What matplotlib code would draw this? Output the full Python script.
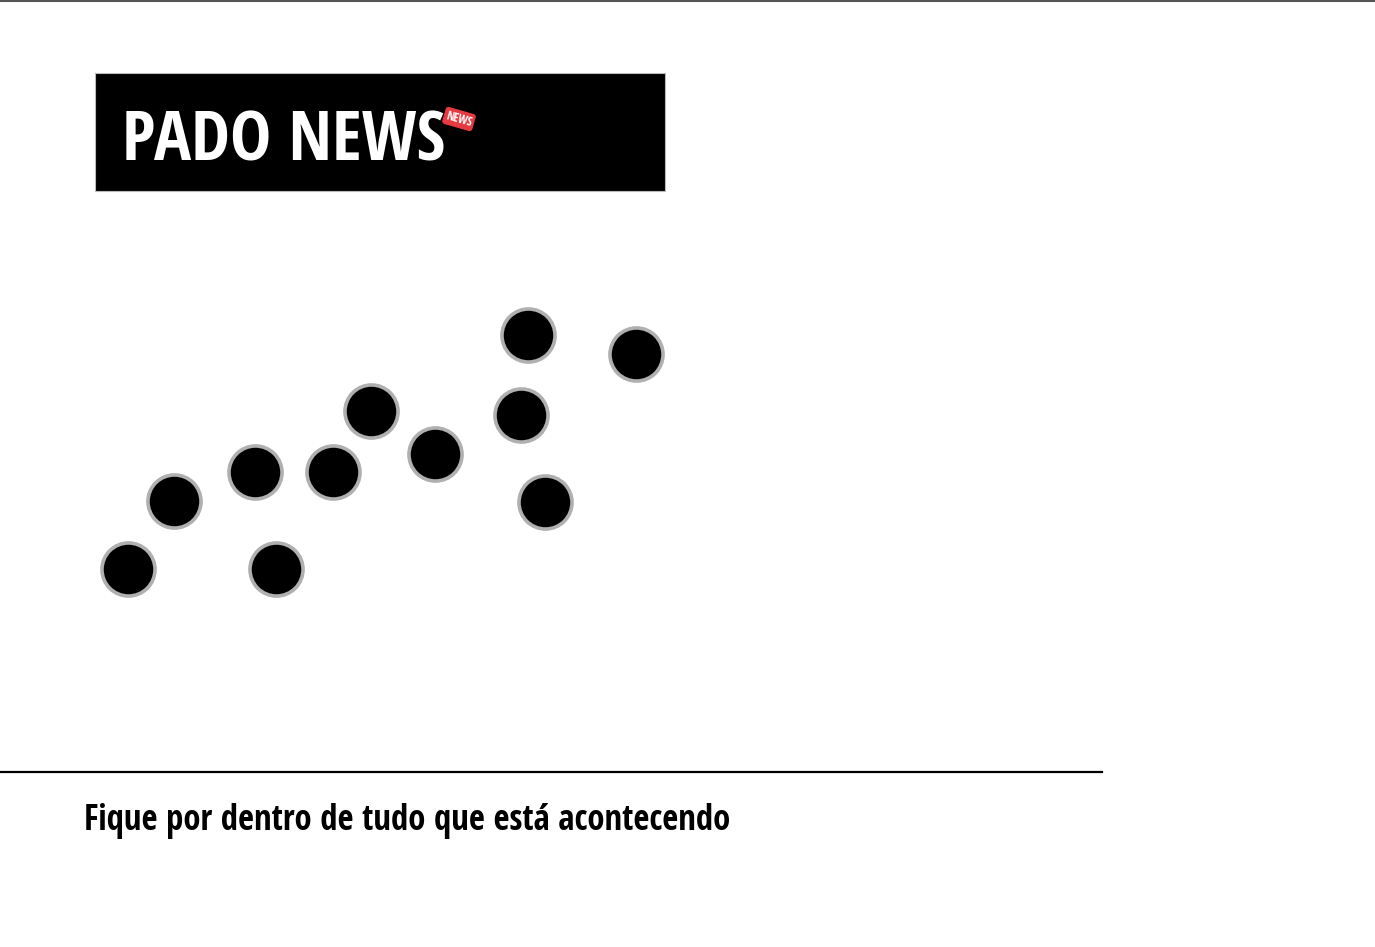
import numpy as np
import matplotlib
matplotlib.use("Agg")
import matplotlib.pyplot as plt
from matplotlib.patches import Rectangle

# data (canvas units, y grows downward)
pts_x = [128, 174, 255, 276, 333, 371, 435, 521, 528, 545, 636]
pts_y = [569, 501, 472, 569, 472, 411, 454, 415, 335, 502, 354]

title = "PADO NEWS"
badge = "NEWS"
tagline = "Fique por dentro de tudo que está acontecendo"

cond = ['Open Sans Condensed', 'DejaVu Sans']

fig = plt.figure(figsize=(13.75, 9.47), dpi=100)
ax = fig.add_axes([0, 0, 1, 1])
ax.set_xlim(0, 1375)
ax.set_ylim(947, 0)
ax.axis('off')

# top and bottom rules
ax.plot([0, 1375], [0.8, 0.8], color='#555555', linewidth=1.5)
ax.plot([0, 1102], [772, 772], color='black', linewidth=1.6)

# banner
ax.add_patch(Rectangle((95, 73), 570, 118, facecolor='black', edgecolor='#bbbbbb', linewidth=0.8))
ax.text(122, 160, title, color='white', fontsize=50, fontweight='bold',
        family=cond, va='baseline', ha='left')
ax.text(459, 119, badge, color='white', fontsize=8.5, fontweight='bold', family=cond,
        ha='center', va='center', rotation=-16,
        bbox=dict(boxstyle='round,pad=0.2,rounding_size=0.25', facecolor='#e63a40', edgecolor='none'))

ax.scatter(pts_x, pts_y, s=1460, marker='o', facecolor='black',
           edgecolor='#b0b0b0', linewidth=2.6, zorder=3)

ax.text(84, 830, tagline, color='black', fontsize=25, fontweight='bold',
        family=cond, va='baseline', ha='left')

fig.savefig("out.png", dpi=100)
